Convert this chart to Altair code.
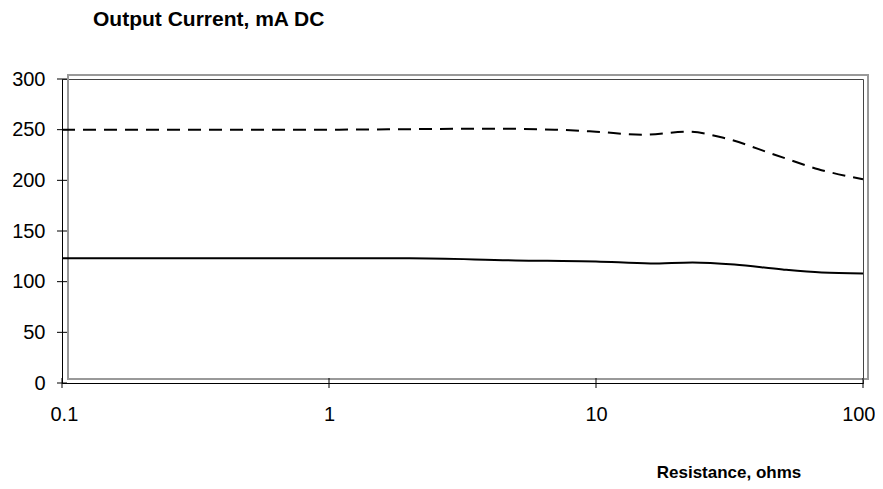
import altair as alt
import pandas as pd

# Data
res_dashed = [0.1, 0.2, 0.5, 1, 2, 4, 7, 10, 15, 22, 30, 47, 68, 100]
cur_dashed = [250, 250, 250, 250, 250.5, 251, 250, 248, 245, 248, 242, 225, 211, 201]

res_solid = [0.1, 0.5, 1, 2, 5, 10, 16, 23, 33, 50, 70, 100]
cur_solid = [123, 123, 123, 123, 121, 120, 118, 119, 117, 112, 109, 108]

x_ticks = [0.1, 1, 10, 100]
y_ticks = [0, 50, 100, 150, 200, 250, 300]

title_text = "Output Current, mA DC"
x_title_text = "Resistance, ohms"

FONT = "Liberation Sans"

df_d = pd.DataFrame({"r": res_dashed, "i": cur_dashed})
df_s = pd.DataFrame({"r": res_solid, "i": cur_solid})
df_xt = pd.DataFrame({"r": x_ticks})
df_yt = pd.DataFrame({"i": y_ticks})

xs = alt.Scale(type="log", domain=[0.1, 100], nice=False)
ys = alt.Scale(domain=[0, 300], nice=False)

x_axis = alt.Axis(values=x_ticks, format="~g", title=None, ticks=False, grid=False,
                  labelFont=FONT, labelFontSize=20, labelColor="black", labelPadding=21,
                  domainColor="black", domainWidth=1, labelFlush=True, labelFlushOffset=12)
y_axis = alt.Axis(values=y_ticks, title=None, ticks=False, grid=False,
                  labelFont=FONT, labelFontSize=20, labelColor="black", labelPadding=17,
                  domainColor="black", domainWidth=1)

box = alt.Chart(pd.DataFrame({"a": [0]})).mark_rect(
    fill=None, stroke="#999999", strokeWidth=2
).encode(x=alt.value(6), x2=alt.value(806), y=alt.value(-4), y2=alt.value(300))

dashed = alt.Chart(df_d).mark_line(
    color="black", strokeWidth=2, strokeDash=[13, 8], interpolate="monotone"
).encode(x=alt.X("r:Q", scale=xs, axis=x_axis), y=alt.Y("i:Q", scale=ys, axis=y_axis))

solid = alt.Chart(df_s).mark_line(
    color="black", strokeWidth=2, interpolate="monotone"
).encode(x=alt.X("r:Q", scale=xs), y=alt.Y("i:Q", scale=ys))

xticks = alt.Chart(df_xt).mark_rule(color="black", strokeWidth=1).encode(
    x=alt.X("r:Q", scale=xs), y=alt.value(299), y2=alt.value(309))
yticks = alt.Chart(df_yt).mark_rule(color="black", strokeWidth=1).encode(
    y=alt.Y("i:Q", scale=ys), x=alt.value(-5), x2=alt.value(5))

title = alt.Chart(pd.DataFrame({"t": [title_text]})).mark_text(
    font=FONT, fontSize=21, fontWeight="bold", align="left", baseline="middle", color="black"
).encode(text="t:N", x=alt.value(31), y=alt.value(-59))

xtitle = alt.Chart(pd.DataFrame({"t": [x_title_text]})).mark_text(
    font=FONT, fontSize=17, fontWeight="bold", align="center", baseline="middle", color="black"
).encode(text="t:N", x=alt.value(667), y=alt.value(394))

chart = alt.layer(box, dashed, solid, xticks, yticks, title, xtitle).properties(
    width=801, height=304,
    autosize=alt.AutoSizeParams(type="none"),
    padding={"left": 54, "top": 71, "right": 12, "bottom": 98},
    background="white",
).configure_view(stroke="#444444", strokeWidth=1)

chart.save("out.html", embed_options={"renderer": "svg", "actions": False})
